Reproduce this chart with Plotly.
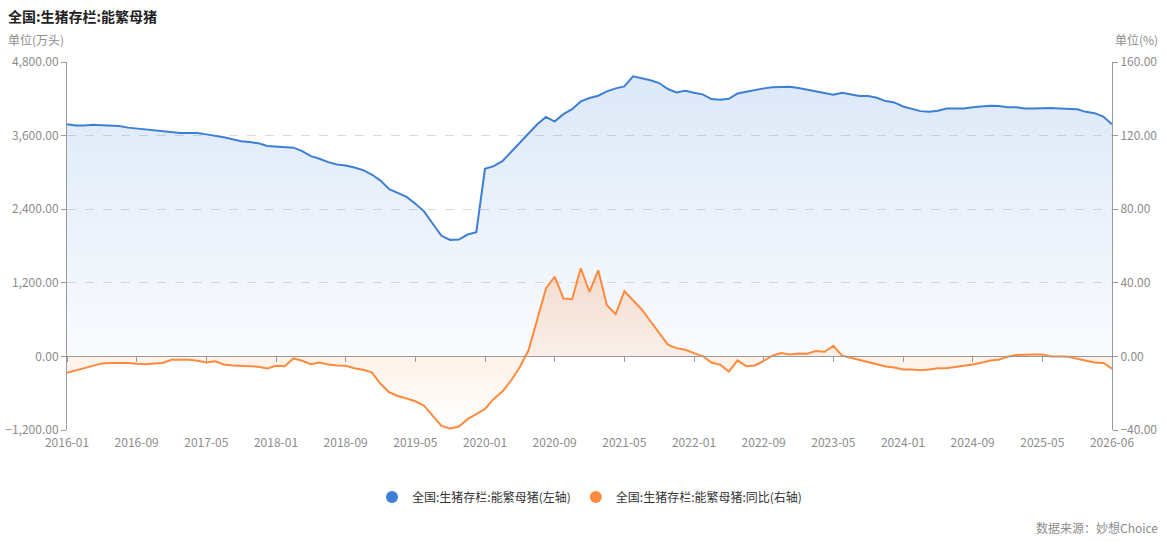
import plotly.graph_objects as go

# 月度日期（2016-01 ~ 2025-12，最后一点 2026-06）
months = [f"{y}-{m:02d}" for y in range(2016, 2026) for m in range(1, 13)] + ["2026-06"]
tick_labels = months[::8]

# 全国:生猪存栏:能繁母猪 (万头, 左轴)
sow_stock = [
    3785, 3765, 3765, 3775, 3770, 3770, 3758, 3730, 3715, 3703,
    3687, 3671, 3660, 3643, 3643, 3643, 3620, 3600, 3572, 3539,
    3507, 3495, 3474, 3430, 3419, 3403, 3403, 3348, 3266, 3223,
    3168, 3130, 3113, 3081, 3037, 2966, 2867, 2725, 2660, 2600,
    2490, 2365, 2162, 1966, 1900, 1905, 1987, 2026, 3058, 3102,
    3184, 3337, 3474, 3638, 3785, 3905, 3829, 3949, 4031, 4157,
    4212, 4250, 4321, 4370, 4403, 4567, 4540, 4501, 4457, 4359,
    4305, 4332, 4299, 4272, 4195, 4184, 4201, 4288, 4315, 4348,
    4370, 4387, 4392, 4397, 4375, 4348, 4315, 4294, 4266, 4299,
    4272, 4244, 4244, 4217, 4163, 4141, 4075, 4042, 3999, 3987,
    4004, 4042, 4042, 4042, 4064, 4075, 4086, 4081, 4064, 4064,
    4042, 4042, 4048, 4048, 4042, 4037, 4031, 3987, 3966, 3911,
    3785,
]

# 全国:生猪存栏:能繁母猪:同比 (%, 右轴)
sow_yoy = [
    -8.9, -7.6, -6.4, -4.7, -3.8, -3.6, -3.5, -3.6, -4.0, -4.2,
    -3.8, -3.6, -1.8, -1.8, -1.8, -2.4, -3.3, -2.7, -4.4, -4.9,
    -5.1, -5.3, -5.6, -6.5, -5.1, -5.3, -1.1, -2.4, -4.2, -3.3,
    -4.4, -4.9, -5.1, -6.4, -7.3, -8.7, -14.9, -19.5, -21.5, -22.9,
    -24.4, -26.8, -32.3, -37.8, -39.2, -38.1, -34.1, -31.3, -28.6, -23.1,
    -19.1, -13.1, -5.8, 3.3, 19.6, 36.9, 43.3, 31.5, 31.1, 47.9,
    35.1, 46.8, 27.8, 22.9, 35.5, 30.6, 25.5, 19.1, 12.7, 6.4,
    4.5, 3.6, 1.8, 0.2, -3.3, -4.5, -8.2, -2.2, -5.3, -4.9,
    -2.5, 0.4, 1.8, 1.1, 1.6, 1.5, 2.9, 2.5, 5.8, 0.4,
    -0.7, -2.0, -3.1, -4.4, -5.5, -6.0, -7.1, -7.1, -7.5, -7.1,
    -6.5, -6.4, -5.8, -5.1, -4.4, -3.5, -2.2, -1.8, -0.2, 0.7,
    1.1, 1.1, 1.1, 0.0, 0.0, -0.2, -1.3, -2.5, -3.3, -3.6,
    -6.7,
]

name_left = "全国:生猪存栏:能繁母猪(左轴)"
name_right = "全国:生猪存栏:能繁母猪:同比(右轴)"
blue = "#3d7fd6"
orange = "#ff8a3d"
grey = "#8c8c8c"
font_family = "Noto Sans CJK SC, Microsoft YaHei, sans-serif"

fig = go.Figure()

# 左轴：存栏
fig.add_trace(go.Scatter(
    x=months, y=sow_stock, mode="lines", name=name_left,
    line=dict(color=blue, width=2),
    fill="tozeroy",
    fillgradient=dict(type="vertical", start=0, stop=4600,
                      colorscale=[[0, "rgba(61,127,214,0.03)"], [1, "rgba(61,127,214,0.18)"]]),
    showlegend=False,
    hovertemplate="%{x}<br>%{y:,.2f}<extra>" + name_left + "</extra>",
))

# 右轴：同比
fig.add_trace(go.Scatter(
    x=months, y=sow_yoy, mode="lines", name=name_right,
    xaxis="x2", yaxis="y2",
    line=dict(color=orange, width=2),
    fill="tozeroy",
    fillgradient=dict(type="vertical", start=-40, stop=48,
                      colorscale=[[0, "rgba(255,138,61,0.0)"], [1, "rgba(255,138,61,0.24)"]]),
    showlegend=False,
    hovertemplate="%{x}<br>%{y:.2f}<extra>" + name_right + "</extra>",
))

# legend entries (round markers, like the original)
for nm, col in ((name_left, blue), (name_right, orange)):
    fig.add_trace(go.Scatter(
        x=[None], y=[None], mode="markers", name=nm,
        marker=dict(color=col, size=12, symbol="circle"),
        hoverinfo="skip",
    ))

n = len(months) - 1
fig.update_layout(
    width=1166, height=542,
    margin=dict(l=67, r=54, t=62, b=112),
    paper_bgcolor="white", plot_bgcolor="white",
    font=dict(family=font_family, size=12, color="#333"),
    showlegend=True,
    legend=dict(orientation="h", x=0.5, xanchor="center", y=-0.182, yanchor="middle",
                font=dict(size=12, color="#333"), itemwidth=30, tracegroupgap=0),
    hovermode="x unified",
    xaxis=dict(
        type="category", categoryorder="array", categoryarray=months,
        range=[0, n], tickmode="array", tickvals=tick_labels, ticktext=tick_labels,
        showline=False, ticks="", showgrid=False, zeroline=False, automargin=False,
        ticklabelstandoff=4, tickfont=dict(size=12, color=grey),
    ),
    xaxis2=dict(
        type="category", categoryorder="array", categoryarray=months,
        overlaying="x", matches="x", anchor="free", position=0.2,
        range=[0, n], tickmode="array", tickvals=tick_labels,
        showticklabels=False, showline=True, linecolor="#9a9a9a", linewidth=1,
        ticks="outside", ticklen=5, tickcolor="#9a9a9a", showgrid=False, zeroline=False,
    ),
    yaxis=dict(
        range=[-1200, 4800], tickmode="linear", tick0=-1200, dtick=1200,
        tickformat=",.2f", showline=True, linecolor="#9a9a9a", linewidth=1,
        ticks="outside", ticklen=5, tickcolor="#9a9a9a", automargin=False,
        showgrid=True, gridcolor="#dcdcdc", griddash="dash", gridwidth=1,
        zeroline=False, tickfont=dict(size=12, color=grey),
    ),
    yaxis2=dict(
        range=[-40, 160], tickmode="linear", tick0=-40, dtick=40,
        tickformat=".2f", overlaying="y", side="right", anchor="x",
        showline=True, linecolor="#9a9a9a", linewidth=1, automargin=False,
        ticks="outside", ticklen=5, tickcolor="#9a9a9a",
        showgrid=False, zeroline=False, tickfont=dict(size=12, color=grey),
    ),
)

# Title / units / source
fig.add_annotation(text="<b>全国:生猪存栏:能繁母猪</b>", xref="paper", yref="paper",
                   x=-0.0584, y=1.125, xanchor="left", yanchor="middle", showarrow=False,
                   font=dict(size=14, color="#222"))
fig.add_annotation(text="单位(万头)", xref="paper", yref="paper",
                   x=-0.0584, y=1.06, xanchor="left", yanchor="middle", showarrow=False,
                   font=dict(size=12, color=grey))
fig.add_annotation(text="单位(%)", xref="paper", yref="paper",
                   x=1.046, y=1.06, xanchor="right", yanchor="middle", showarrow=False,
                   font=dict(size=12, color=grey))
fig.add_annotation(text="数据来源：妙想Choice", xref="paper", yref="paper",
                   x=1.046, y=-0.266, xanchor="right", yanchor="middle", showarrow=False,
                   font=dict(size=12, color=grey))

# page body has a default 8px margin; drop it so the figure sits at the window origin
fig.write_html("out.html", config={"displayModeBar": False},
               post_script="document.body.style.margin='0';")
